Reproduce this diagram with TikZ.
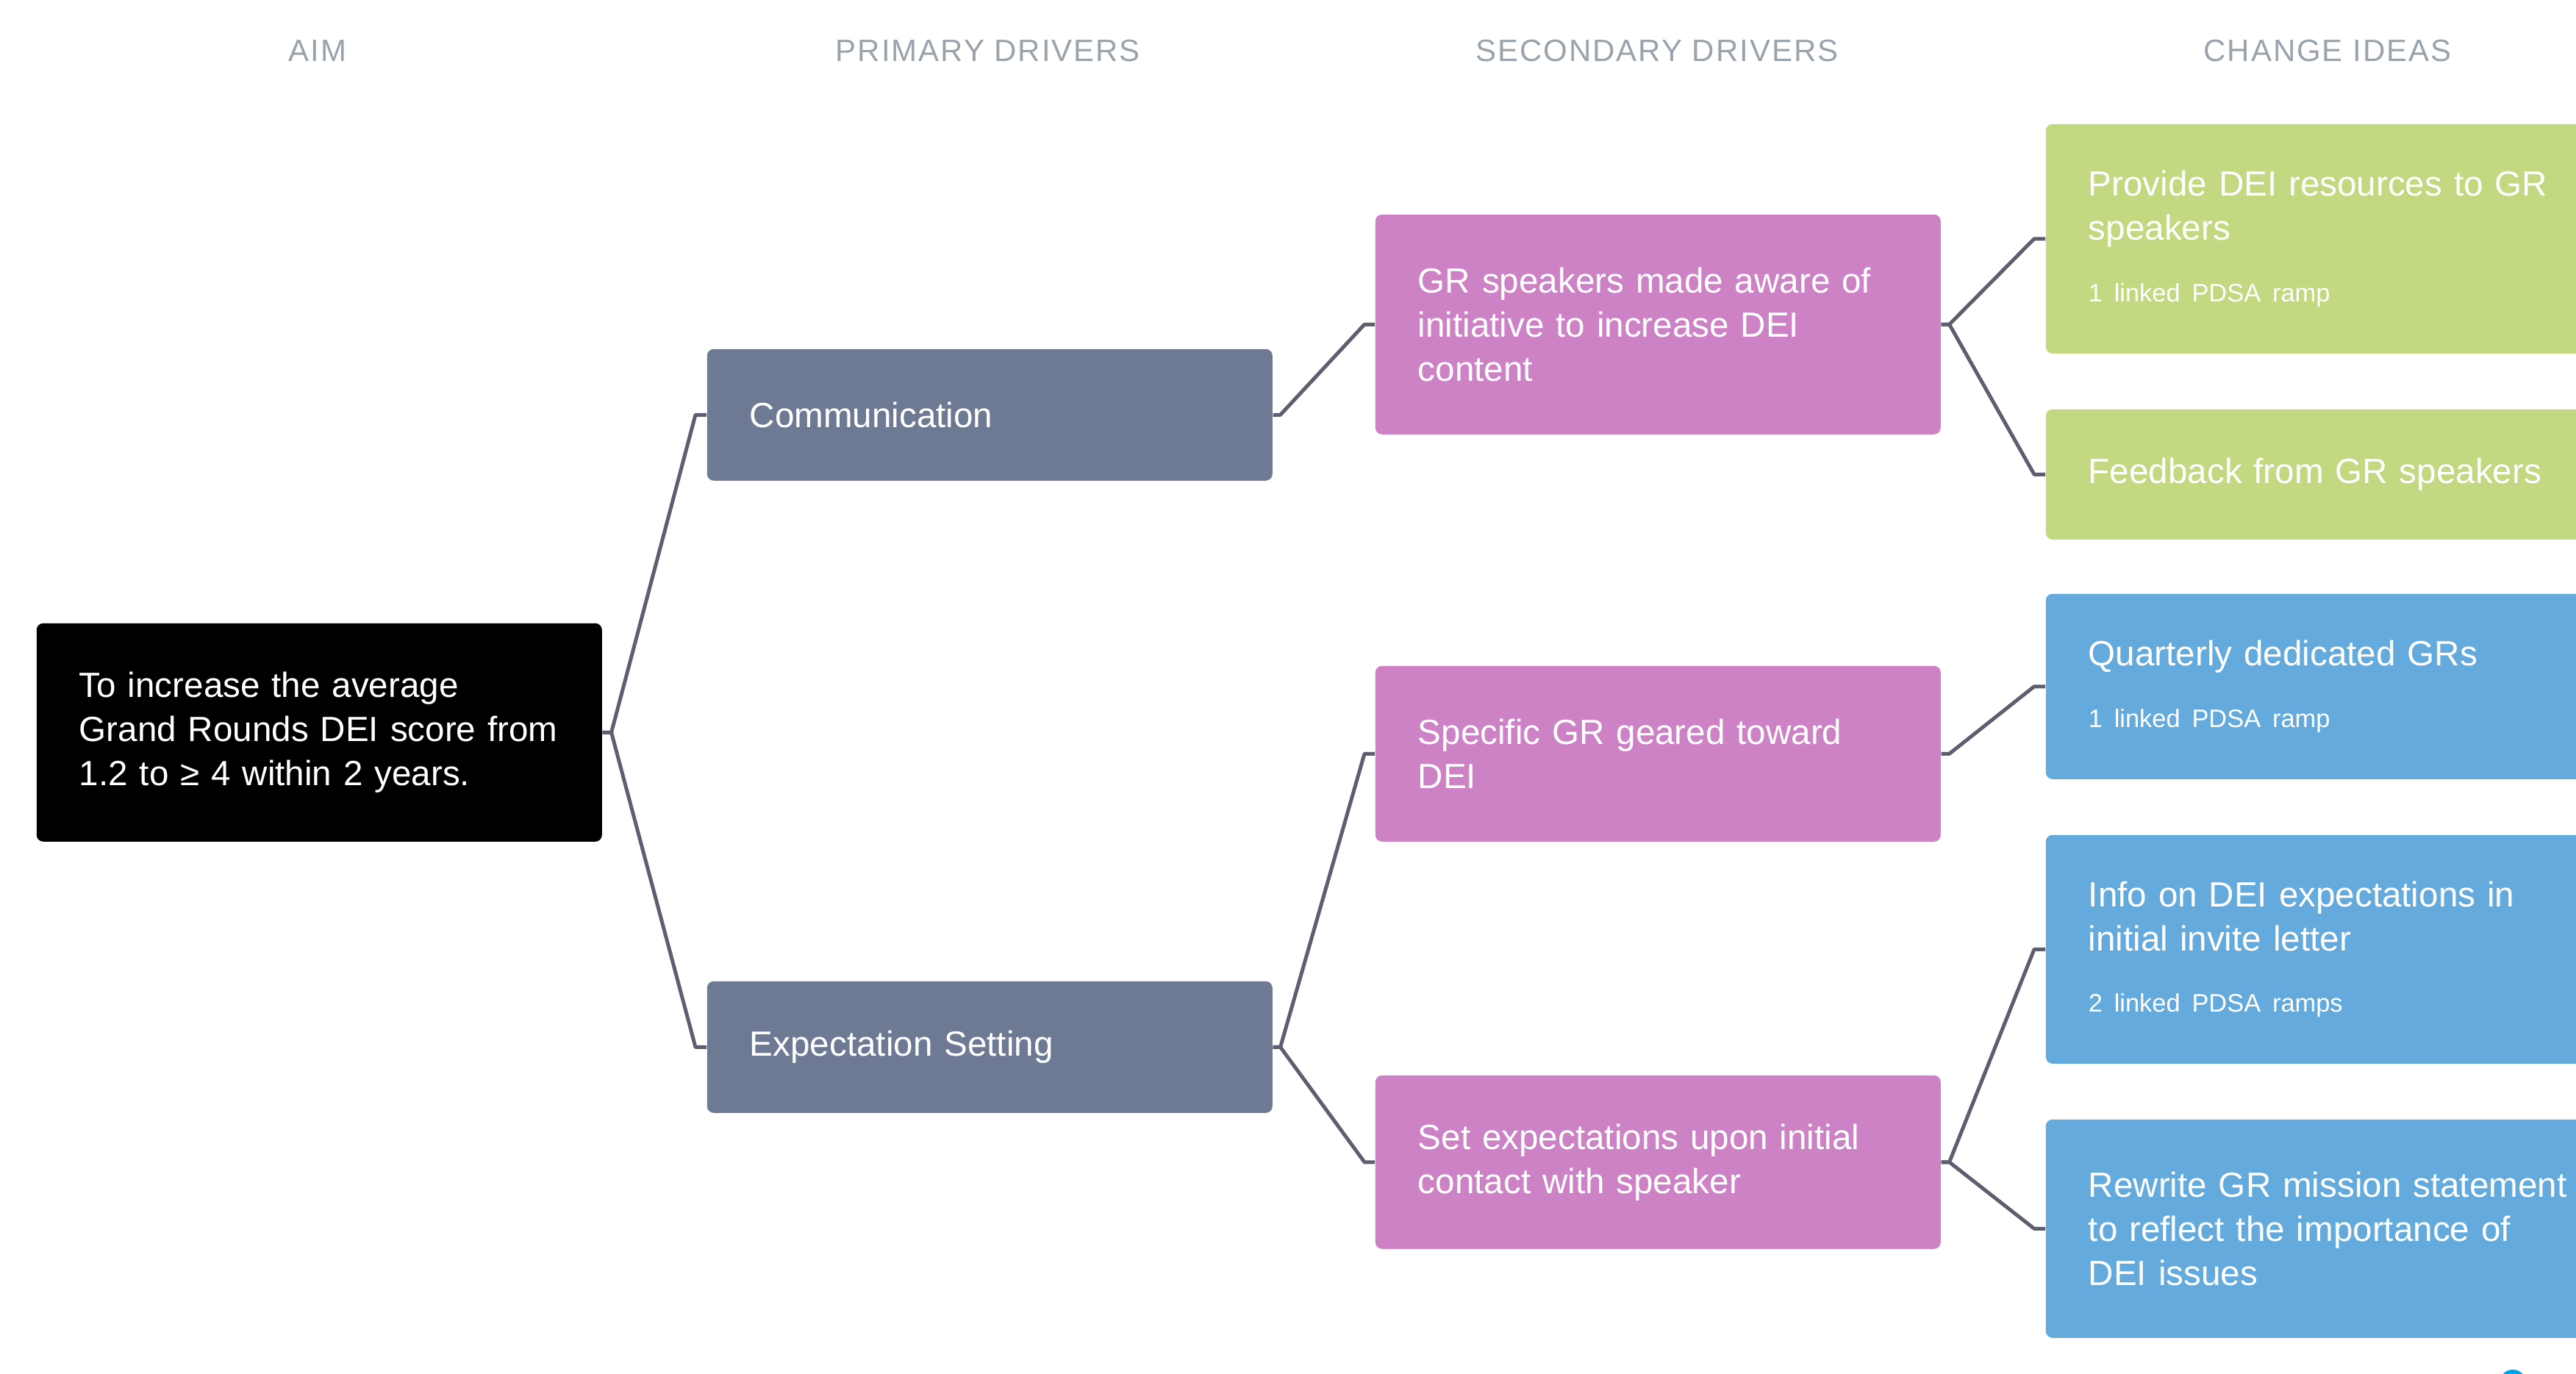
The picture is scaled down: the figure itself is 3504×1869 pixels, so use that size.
\documentclass[tikz,border=0pt]{standalone}
\usepackage{fontspec}
\setmainfont{Liberation Sans}
\definecolor{aimc}{HTML}{000000}
\definecolor{primc}{HTML}{6E7A94}
\definecolor{secc}{HTML}{CC82C4}
\definecolor{greenc}{HTML}{C2D881}
\definecolor{bluec}{HTML}{64AADC}
\definecolor{linec}{HTML}{5F5E70}
\definecolor{headc}{HTML}{9AA3AB}
\definecolor{dotc}{HTML}{00A2E8}
\newcommand{\subtxt}[1]{\\[5.9pt]{\fontsize{8.6}{10.5}\selectfont #1}}
\begin{document}
\begin{tikzpicture}[x=0.25pt,y=-0.25pt,
  box/.style={rectangle, rounded corners=2.25pt, anchor=north west, inner xsep=14.5pt,
    inner ysep=0pt, align=left, text=white, font=\fontsize{11.9}{15}\selectfont,
    minimum width=192.25pt, text width=163.25pt},
  chg/.style={box, minimum width=200pt, text width=171pt},
  head/.style={text=headc, font=\fontsize{10.5}{12}\selectfont\addfontfeature{LetterSpace=4.6}, anchor=center},
  conn/.style={draw=linec, line width=1.25pt, line join=round}]
\useasboundingbox (0,0) rectangle (3504,1869);
% headers
\node[head] (h1) at (432,69) {AIM};
\node[head] (h2) at (1344,69) {PRIMARY DRIVERS};
\node[head] (h3) at (2254,69) {SECONDARY DRIVERS};
\node[head] (h4) at (3166,69) {CHANGE IDEAS};
% aim
\node[box, fill=aimc, minimum height=74.25pt] (aim) at (49,847)
  {\mbox{To increase the average}\\\mbox{Grand Rounds DEI score from}\\\mbox{1.2 to ≥ 4 within 2 years.}};
% primary
\node[box, fill=primc, minimum height=44.75pt] (comm) at (961,474) {Communication};
\node[box, fill=primc, minimum height=44.75pt] (exp) at (961,1334) {Expectation Setting};
% secondary
\node[box, fill=secc, minimum height=74.75pt] (gr) at (1870,291)
  {GR speakers made aware of\\initiative to increase DEI\\content};
\node[box, fill=secc, minimum height=59.75pt] (spec) at (1870,905)
  {Specific GR geared toward\\DEI};
\node[box, fill=secc, minimum height=59pt] (set) at (1870,1462)
  {\mbox{Set expectations upon initial}\\contact with speaker};
% change ideas
\node[chg, fill=greenc, minimum height=78pt] (prov) at (2782,168)
  {Provide DEI resources to GR\\speakers\subtxt{1 linked PDSA ramp}};
\node[chg, fill=greenc, minimum height=44.25pt] (feed) at (2782,556)
  {Feedback from GR speakers};
\node[chg, fill=bluec, minimum height=63pt] (quar) at (2782,807)
  {Quarterly dedicated GRs\subtxt{1 linked PDSA ramp}};
\node[chg, fill=bluec, minimum height=77.75pt] (info) at (2782,1135)
  {Info on DEI expectations in\\initial invite letter\subtxt{2 linked PDSA ramps}};
\node[chg, fill=bluec, minimum height=74.25pt] (rew) at (2782,1522)
  {\mbox{Rewrite GR mission statement}\\to reflect the importance of\\DEI issues};
% connectors
\draw[conn] (aim.east) -- ++(12,0) -- ([xshift=-3.75pt]comm.west) -- (comm.west);
\draw[conn] (aim.east) -- ++(12,0) -- ([xshift=-3.75pt]exp.west) -- (exp.west);
\draw[conn] (comm.east) -- ++(10,0) -- ([xshift=-3.5pt]gr.west) -- (gr.west);
\draw[conn] (exp.east) -- ++(10,0) -- ([xshift=-3.5pt]spec.west) -- (spec.west);
\draw[conn] (exp.east) -- ++(10,0) -- ([xshift=-3.5pt]set.west) -- (set.west);
\draw[conn] (gr.east) -- ++(11,0) -- ([xshift=-3.75pt]prov.west) -- (prov.west);
\draw[conn] (gr.east) -- ++(11,0) -- ([xshift=-3.75pt]feed.west) -- (feed.west);
\draw[conn] (spec.east) -- ++(11,0) -- ([xshift=-3.75pt]quar.west) -- (quar.west);
\draw[conn] (set.east) -- ++(11,0) -- ([xshift=-3.75pt]info.west) -- (info.west);
\draw[conn] (set.east) -- ++(11,0) -- ([xshift=-3.75pt]rew.west) -- (rew.west);
% small mark at the bottom edge
\fill[dotc] (3418,1881) circle (4.5pt);
\end{tikzpicture}
\end{document}
